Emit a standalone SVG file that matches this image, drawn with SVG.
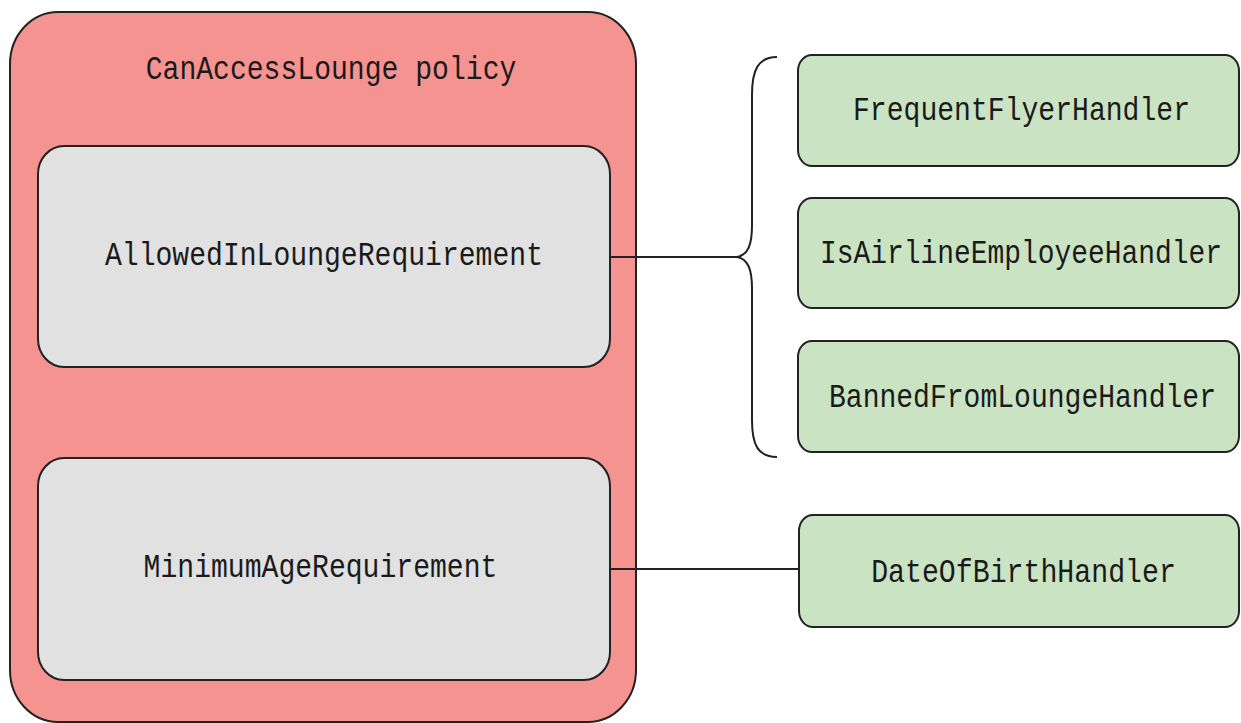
<svg xmlns="http://www.w3.org/2000/svg" width="1241" height="723" viewBox="0 0 1241 723">
<style>
.lbl{font-family:"Liberation Mono","Courier New",monospace;font-size:34px;fill:#1a1a1a;text-anchor:middle}
.box{stroke:#222;stroke-width:2}
.policy{fill:#f59390}
.req{fill:#e0e1e0}
.hdl{fill:#c9e3c3}
.conn{fill:none;stroke:#222;stroke-width:2}
</style>
<rect width="1241" height="723" fill="#ffffff"/>
<g id="policy">
<rect class="box policy" x="10" y="12" width="626" height="710" rx="48" ry="52"/>
<text class="lbl" transform="translate(331,79) scale(0.826,1)">CanAccessLounge policy</text>
</g>
<g id="allowed">
<rect class="box req" x="38" y="146" width="572" height="221" rx="26" ry="28"/>
<text class="lbl" transform="translate(324,265) scale(0.826,1)">AllowedInLoungeRequirement</text>
</g>
<g id="minage">
<rect class="box req" x="38" y="458" width="572" height="222" rx="26" ry="28"/>
<text class="lbl" transform="translate(320.5,577) scale(0.826,1)">MinimumAgeRequirement</text>
</g>
<g id="frequent">
<rect class="box hdl" x="798" y="55" width="441" height="111" rx="14" ry="16"/>
<text class="lbl" transform="translate(1021.5,120) scale(0.826,1)">FrequentFlyerHandler</text>
</g>
<g id="employee">
<rect class="box hdl" x="798" y="198" width="441" height="110" rx="14" ry="16"/>
<text class="lbl" transform="translate(1021,263) scale(0.821,1)">IsAirlineEmployeeHandler</text>
</g>
<g id="banned">
<rect class="box hdl" x="798" y="341" width="441" height="111" rx="14" ry="16"/>
<text class="lbl" transform="translate(1022.5,407) scale(0.825,1)">BannedFromLoungeHandler</text>
</g>
<g id="dob">
<rect class="box hdl" x="799" y="515" width="440" height="112" rx="14" ry="16"/>
<text class="lbl" transform="translate(1023.5,582) scale(0.83,1)">DateOfBirthHandler</text>
</g>
<g id="connectors">
<line class="conn" x1="610" y1="257" x2="737" y2="257"/>
<path class="conn" d="M777,57 C758,57 752,70 752,95 L752,225 C752,245 748,255 737,257 C748,259 752,269 752,289 L752,420 C752,445 758,457 777,457"/>
<line class="conn" x1="610" y1="569" x2="799" y2="569"/>
</g>
</svg>
